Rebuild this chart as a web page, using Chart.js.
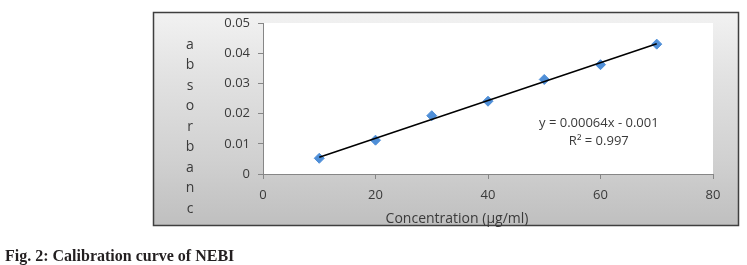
<!DOCTYPE html>
<html>
<head>
<meta charset="utf-8">
<script src="https://cdn.jsdelivr.net/npm/chart.js@4.4.0/dist/chart.umd.min.js"></script>
<style>
    html, body { margin: 0; padding: 0; background: #fff; }
    #wrap { position: relative; width: 747px; height: 265px; }
    #caption {
        position: absolute; left: 5px; top: 247px;
        font: bold 16px "Liberation Serif", "Times New Roman", serif;
        color: #231f20; white-space: nowrap;
    }
</style>
</head>
<body>
<div id="wrap">
    <canvas id="calib" width="747" height="265"></canvas>
    <div id="caption">Fig. 2: Calibration curve of NEBI</div>
</div>
<script>
// data
var concentrations = [10, 20, 30, 40, 50, 60, 70];
var absorbance = [0.0052, 0.0112, 0.0193, 0.0241, 0.0313, 0.0362, 0.0430];
var xTicks = [0, 20, 40, 60, 80];
var yTicks = [0, 0.01, 0.02, 0.03, 0.04, 0.05];
var yTitleLetters = ['a', 'b', 's', 'o', 'r', 'b', 'a', 'n', 'c'];
var xTitle = 'Concentration (µg/ml)';
var equationLines = ['y = 0.00064x - 0.001', 'R² = 0.997'];

var labelFont = '"Open Sans", "Liberation Sans", sans-serif';

// least squares trend line through the points
function linearFit(xs, ys) {
    var n = xs.length, mx = 0, my = 0, sxy = 0, sxx = 0;
    for (var i = 0; i < n; i++) { mx += xs[i]; my += ys[i]; }
    mx /= n; my /= n;
    for (var j = 0; j < n; j++) {
        sxy += (xs[j] - mx) * (ys[j] - my);
        sxx += (xs[j] - mx) * (xs[j] - mx);
    }
    var slope = sxy / sxx;
    return { slope: slope, intercept: my - slope * mx };
}

var fit = linearFit(concentrations, absorbance);
var xMin = Math.min.apply(null, concentrations);
var xMax = Math.max.apply(null, concentrations);
var trendPoints = [
    { x: xMin, y: fit.intercept + fit.slope * xMin },
    { x: xMax, y: fit.intercept + fit.slope * xMax }
];

var scatterPoints = concentrations.map(function (c, i) {
    return { x: c, y: absorbance[i] };
});

var frame = {
    id: 'frame',
    beforeDraw: function (chart) {
        var ctx = chart.ctx;
        var area = chart.chartArea;
        ctx.save();
        var bx = 153, by = 12, bw = 586, bh = 214;
        var grad = ctx.createLinearGradient(0, by, 0, by + bh);
        grad.addColorStop(0, '#f2f2f2');
        grad.addColorStop(0.3, '#e2e2e2');
        grad.addColorStop(0.7, '#d0d0d0');
        grad.addColorStop(1, '#bfbfbf');
        ctx.fillStyle = grad;
        ctx.fillRect(bx, by, bw, bh);
        ctx.lineWidth = 1.5;
        ctx.strokeStyle = '#3f3f3f';
        ctx.strokeRect(bx + 0.5, by + 0.5, bw - 1, bh - 1);

        ctx.fillStyle = '#ffffff';
        ctx.fillRect(area.left, area.top, area.right - area.left, area.bottom - area.top);
        ctx.restore();
    },
    afterDraw: function (chart) {
        var ctx = chart.ctx;
        var xs = chart.scales.x;
        var ys = chart.scales.y;
        ctx.save();
        ctx.fillStyle = '#3a3a3a';
        ctx.textAlign = 'center';
        ctx.textBaseline = 'middle';

        ctx.font = '14px ' + labelFont;
        yTitleLetters.forEach(function (ch, i) {
            ctx.fillText(ch, 190, 45 + i * 20.5);
        });

        ctx.fillText(xTitle, 457, 219);

        ctx.font = '13px ' + labelFont;
        var ex = xs.getPixelForValue(59.7);
        var ey = ys.getPixelForValue(0.0167);
        equationLines.forEach(function (line, i) {
            ctx.fillText(line, ex, ey + i * 18);
        });
        ctx.restore();
    }
};

new Chart(document.getElementById('calib'), {
    type: 'scatter',
    data: {
        datasets: [{
            label: 'Linear fit',
            data: trendPoints,
            showLine: true,
            borderColor: '#000000',
            borderWidth: 1.5,
            pointRadius: 0
        }, {
            label: 'Absorbance',
            data: scatterPoints,
            pointStyle: 'rectRot',
            pointRadius: 5,
            backgroundColor: '#4f8fd8',
            borderColor: '#4f8fd8',
            borderWidth: 1
        }]
    },
    options: {
        responsive: false,
        animation: false,
        layout: {
            padding: { top: 23, right: 34, left: 0, bottom: 0 }
        },
        plugins: {
            legend: { display: false },
            tooltip: { enabled: false }
        },
        scales: {
            x: {
                type: 'linear',
                min: 0,
                max: 80,
                afterBuildTicks: function (scale) {
                    scale.ticks = xTicks.map(function (v) { return { value: v }; });
                },
                afterFit: function (scale) { scale.height = 91; },
                ticks: {
                    color: '#3a3a3a',
                    font: { family: labelFont, size: 13 },
                    padding: 8,
                    maxRotation: 0
                },
                grid: { drawOnChartArea: false, tickLength: 5, color: '#868686' },
                border: { color: '#868686', width: 1 }
            },
            y: {
                min: 0,
                max: 0.05,
                afterBuildTicks: function (scale) {
                    scale.ticks = yTicks.map(function (v) { return { value: v }; });
                },
                afterFit: function (scale) { scale.width = 263; },
                ticks: {
                    color: '#3a3a3a',
                    font: { family: labelFont, size: 13 },
                    padding: 8,
                    callback: function (value) {
                        return value === 0 ? '0' : value.toFixed(2);
                    }
                },
                grid: { drawOnChartArea: false, tickLength: 5, color: '#868686' },
                border: { color: '#868686', width: 1 }
            }
        }
    },
    plugins: [frame]
});
</script>
</body>
</html>
